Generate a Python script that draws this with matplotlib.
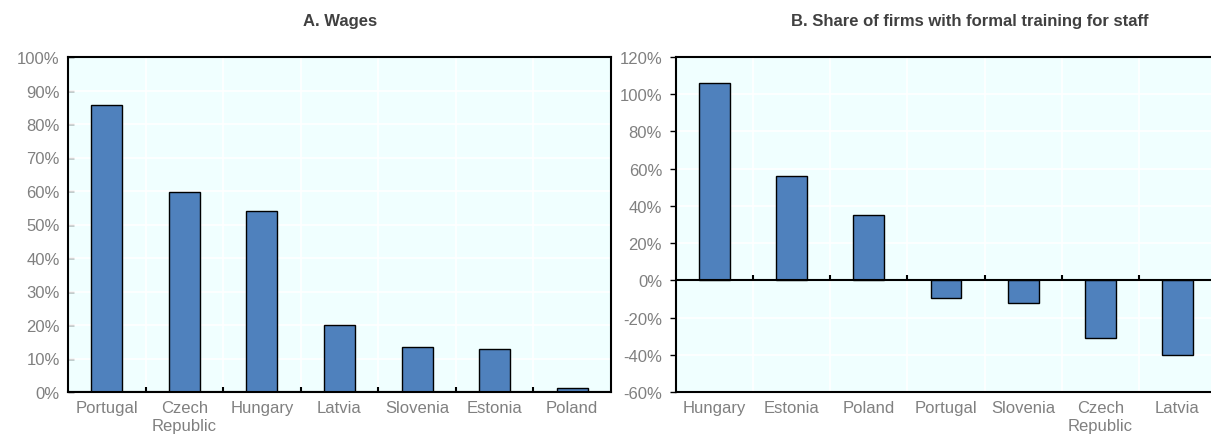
import numpy as np
import matplotlib.pyplot as plt
from matplotlib.ticker import FuncFormatter

wage_countries = ['Portugal', 'Czech\nRepublic', 'Hungary', 'Latvia', 'Slovenia', 'Estonia', 'Poland']
wage_values = [85.8, 59.6, 53.9, 20.1, 13.3, 12.7, 1.2]

train_countries = ['Hungary', 'Estonia', 'Poland', 'Portugal', 'Slovenia', 'Czech\nRepublic', 'Latvia']
train_values = [105.9, 55.9, 34.9, -9.5, -12.0, -31.2, -39.9]

bar_color = '#4F81BD'
bg_color = '#F0FFFF'
label_color = '#808080'
title_color = '#404040'

plt.rcParams['font.family'] = ['Liberation Sans', 'DejaVu Sans']

fig = plt.figure(figsize=(12.11, 4.39), dpi=100)
ax1 = fig.add_axes([68 / 1211, 46 / 439, 543 / 1211, 335 / 439])
ax2 = fig.add_axes([676 / 1211, 46 / 439, 540 / 1211, 335 / 439])


def style_panel(ax, names, values, ylim, yticks, ytick_dir, title, title_x, tick_len):
    x = np.arange(len(names))
    ax.set_facecolor(bg_color)
    ax.set_axisbelow(True)
    ax.bar(x, values, width=0.4, color=bar_color, edgecolor='black', linewidth=1.0, zorder=3)
    ax.set_xlim(-0.5, len(names) - 0.5)
    ax.set_ylim(*ylim)
    ax.set_yticks(yticks)
    ax.yaxis.set_major_formatter(FuncFormatter(lambda v, p: f'{v:.0f}%'))
    ax.set_xticks(x)
    ax.set_xticklabels(names)
    ax.tick_params(axis='x', length=0, pad=6, labelsize=12, labelcolor=label_color)
    ax.tick_params(axis='y', length=4, width=1, direction=ytick_dir, pad=6, labelsize=12,
                   labelcolor=label_color)
    for v in yticks:
        ax.axhline(v, color='white', linewidth=1.2, zorder=1)
    for b in np.arange(0.5, len(names) - 0.5, 1):
        ax.axvline(b, color='white', linewidth=1.2, zorder=1)
        # category separators standing on the baseline
        ax.plot([b, b], [0, tick_len], color='black', linewidth=1.5, zorder=4,
                solid_capstyle='butt')
    for s in ax.spines.values():
        s.set_color('black')
        s.set_linewidth(1.5)
    ax.axhline(0, color='black', linewidth=1.5, zorder=4)
    fig.text(title_x, 0.952, title, ha='center', va='center', fontsize=12,
             fontweight='bold', color=title_color)


style_panel(ax1, wage_countries, wage_values, (0, 100), np.arange(0, 101, 10), 'in',
            'A. Wages', 340 / 1211, 1.5)
style_panel(ax2, train_countries, train_values, (-60, 120), np.arange(-60, 121, 20), 'out',
            'B. Share of firms with formal training for staff', 970 / 1211, 2.7)

fig.savefig('out.png', dpi=100)
